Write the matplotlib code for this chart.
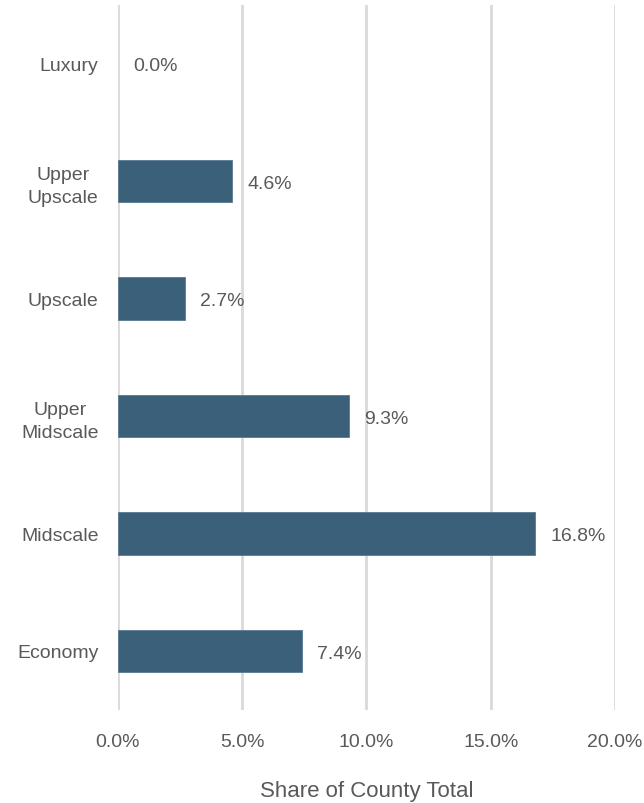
import matplotlib.pyplot as plt
from matplotlib import font_manager
import numpy as np

# Share of county total by chain scale
categories = ['Luxury', 'Upper\nUpscale', 'Upscale', 'Upper\nMidscale', 'Midscale', 'Economy']
shares = [0.0, 4.6, 2.7, 9.3, 16.8, 7.4]
xticks = [0, 5, 10, 15, 20]

names = {f.name for f in font_manager.fontManager.ttflist}
family = 'Liberation Sans Narrow' if 'Liberation Sans Narrow' in names else 'Liberation Sans'
plt.rcParams['font.family'] = [family, 'DejaVu Sans']

text_color = '#595959'
bar_color = '#3b6079'
grid_color = '#d9d9d9'

fig = plt.figure(figsize=(6.44, 8.04), dpi=100)
ax = fig.add_axes([0.183, 0.116, 0.772, 0.877])

y = np.arange(len(categories))
edges = ['#5a7a90' if v > 0 else 'none' for v in shares]
ax.barh(y, shares, height=0.36, color=bar_color, edgecolor=edges, linewidth=0.6, zorder=3)

for yi, v in zip(y, shares):
    ax.text(v + 0.6, yi + 0.02, f'{v:.1f}%', va='center', ha='left',
            fontsize=14, color=text_color)

ax.set_ylim(len(categories) - 0.5, -0.5)
ax.set_xlim(0, 20)
ax.set_yticks(y)
ax.set_yticklabels(categories, fontsize=14, color=text_color,
                   multialignment='center', linespacing=1.45)
ax.set_xticks(xticks)
ax.set_xticklabels([f'{t:.1f}%' for t in xticks], fontsize=14, color=text_color)
ax.tick_params(axis='both', length=0)
ax.tick_params(axis='x', pad=17)
ax.tick_params(axis='y', pad=14)

ax.xaxis.grid(True, color=grid_color, linewidth=2)
ax.set_axisbelow(True)
for s in ax.spines.values():
    s.set_visible(False)

ax.set_xlabel('Share of County Total', fontsize=16, color=text_color, labelpad=21)

fig.savefig('out.png', dpi=100, facecolor='white')
